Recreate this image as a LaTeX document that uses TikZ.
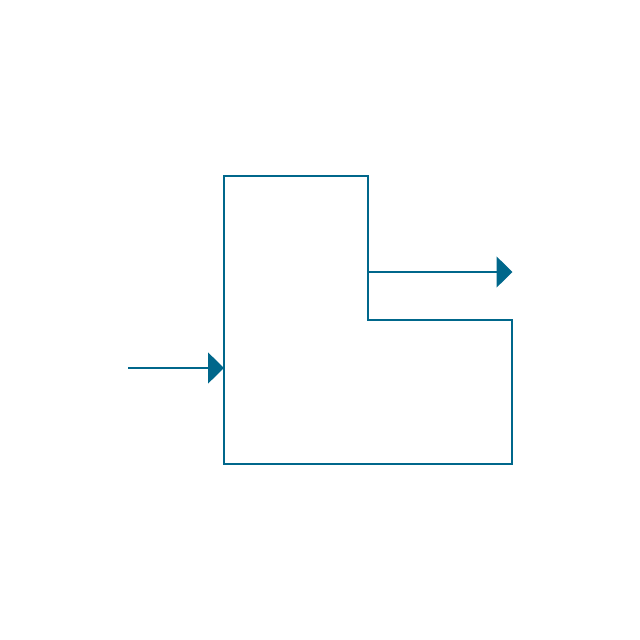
\documentclass[tikz,border=0pt]{standalone}
\usetikzlibrary{arrows.meta}
\definecolor{ink}{RGB}{0,103,139}
\begin{document}
\begin{tikzpicture}[x=1pt,y=-1pt,
  outline/.style={draw=ink,line width=1.5pt,line join=miter},
  flow/.style={draw=ink,line width=1.5pt,-{Triangle[length=16pt,width=31pt]}}]
\useasboundingbox (0,0) rectangle (640,640);
\coordinate (a) at (224,176);
\coordinate (b) at (368,176);
\coordinate (c) at (368,320);
\coordinate (d) at (512,320);
\coordinate (e) at (512,464);
\coordinate (f) at (224,464);
\coordinate (inS) at (128,368);
\coordinate (inE) at (224,368);
\coordinate (outS) at (368,272);
\coordinate (outE) at (512.5,272);
\draw[outline] (a) -- (b) -- (c) -- (d) -- (e) -- (f) -- cycle;
\draw[flow] (inS) -- (inE);
\draw[flow] (outS) -- (outE);
\end{tikzpicture}
\end{document}
